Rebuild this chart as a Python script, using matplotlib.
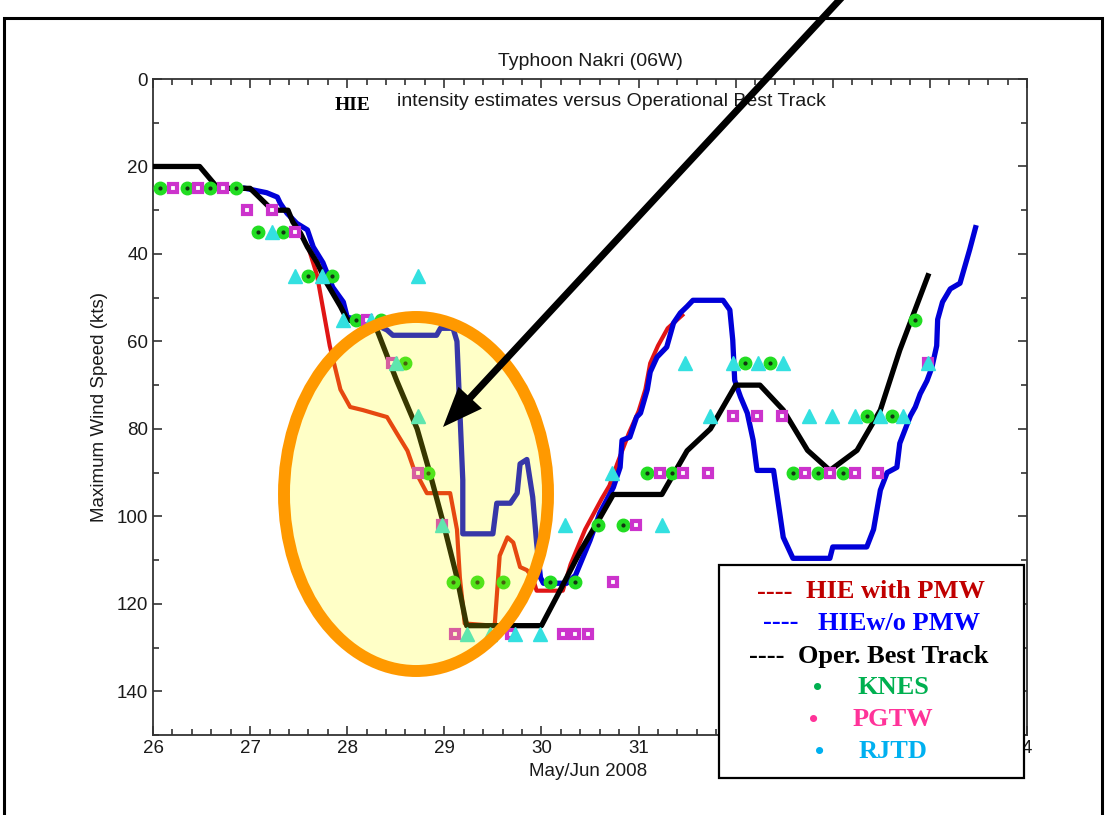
import matplotlib
matplotlib.use("Agg")
import matplotlib.pyplot as plt
from matplotlib.patches import Ellipse, FancyArrow, Rectangle
from matplotlib.ticker import MultipleLocator

# ---------------------------------------------------------------------------
# Data (day of May 2008, June 1 = 32; wind speed in kts)
# ---------------------------------------------------------------------------
bt_day = [26.0, 26.48, 26.67, 27.0, 27.23, 27.39, 27.44, 27.52, 27.59, 27.69,
          27.79, 27.93, 28.0, 28.3, 28.51, 28.72, 28.85, 28.99, 29.13, 29.23,
          30.0, 30.19, 30.4, 30.57, 30.74, 31.24, 31.5, 31.74, 32.0, 32.25,
          32.49, 32.74, 32.97, 33.25, 33.49, 33.69, 33.98]
bt_kt = [20, 20, 25, 25, 30, 30, 32.7, 35.3, 38.4, 42,
         46.7, 52, 55, 57, 69, 80, 90, 101.6, 114, 125,
         125, 117, 108, 101.6, 95, 95, 85, 80, 70, 70,
         75.7, 84.9, 89.5, 84.9, 75.7, 62, 45]

red_day = [27.6, 27.69, 27.82, 27.93, 28.03, 28.16, 28.41, 28.51, 28.62, 28.68,
           28.82, 29.06, 29.13, 29.16, 29.21, 29.5, 29.52, 29.57, 29.65, 29.71,
           29.78, 29.85, 29.91, 29.95, 30.22, 30.3, 30.45, 30.62, 30.7, 30.78,
           30.9, 31.0, 31.07, 31.12, 31.2, 31.3, 31.45]
red_kt = [38.5, 45, 61, 71, 75, 75.7, 77.3, 81, 85, 88.8,
          94.7, 94.7, 103, 114, 124.5, 125, 124.5, 109, 104.8, 106,
          111.6, 112.3, 114, 117, 117, 111, 103, 96, 93, 88,
          81, 76, 71, 65, 61, 57, 54]

blue_day = [26.95, 27.17, 27.28, 27.31, 27.38, 27.48, 27.59, 27.65, 27.75, 27.85,
            27.96, 28.0, 28.23, 28.41, 28.47, 28.92, 28.96, 29.09, 29.13, 29.16,
            29.19, 29.19, 29.5, 29.54, 29.68, 29.75, 29.78, 29.85, 29.91, 29.95,
            29.99, 30.02, 30.26, 30.35, 30.5, 30.6, 30.74, 30.81, 30.83, 30.91,
            30.98, 31.02, 31.09, 31.12, 31.19, 31.29, 31.36, 31.43, 31.5, 31.56,
            31.87, 31.94, 31.97, 31.99, 32.05, 32.12, 32.18, 32.22, 32.39, 32.49,
            32.59, 32.97, 33.0, 33.35, 33.42, 33.49, 33.56, 33.66, 33.69, 33.77,
            33.8, 33.85, 33.9, 33.97, 34.02, 34.07, 34.08, 34.13, 34.21, 34.31,
            34.41, 34.47]
blue_kt = [25, 26, 27, 28.4, 30.7, 33, 34.5, 38.4, 42, 47.6,
           51, 54.5, 55.5, 57.4, 58.6, 58.6, 57, 57, 60, 76,
           91.7, 104, 104, 97, 97, 94.7, 88, 87, 95.6, 106,
           114, 115.3, 115.3, 113.5, 105.5, 99.3, 93.4, 88.8, 82.6, 81.9,
           77.3, 76.4, 71, 67, 63.6, 61.3, 55.8, 53.5, 52, 50.6,
           50.6, 52.8, 59.7, 68.9, 72.7, 76.4, 82.6, 89.5, 89.5, 104.8,
           109.6, 109.6, 107, 107, 103, 94, 90, 88.8, 83.3, 78.7,
           77, 75, 72, 69, 66, 61, 55, 51, 48, 46.7,
           39, 34]

knes_day = [26.07, 26.35, 26.59, 26.85, 27.08, 27.34, 27.6, 27.84, 28.09, 28.35,
            28.6, 28.83, 29.09, 29.34, 29.6, 30.09, 30.35, 30.58, 30.84, 31.09,
            31.34, 32.1, 32.35, 32.59, 32.85, 33.11, 33.35, 33.61, 33.85]
knes_kt = [25, 25, 25, 25, 35, 35, 45, 45, 55, 55,
           65, 90, 115, 115, 115, 115, 115, 102, 102, 90,
           90, 65, 65, 90, 90, 90, 77, 77, 55]

pgtw_day = [26.21, 26.46, 26.72, 26.97, 27.23, 27.46, 28.2, 28.46, 28.73, 28.98,
            29.11, 29.69, 30.22, 30.35, 30.48, 30.74, 30.97, 31.22, 31.46, 31.72,
            31.97, 32.22, 32.48, 32.71, 32.97, 33.23, 33.47, 33.98]
pgtw_kt = [25, 25, 25, 30, 30, 35, 55, 65, 90, 102,
           127, 127, 127, 127, 127, 115, 102, 90, 90, 90,
           77, 77, 77, 90, 90, 90, 90, 65]

rjtd_day = [27.23, 27.46, 27.74, 27.96, 28.24, 28.5, 28.73, 28.73, 28.98, 29.23,
            29.47, 29.73, 29.99, 30.24, 30.73, 31.24, 31.48, 31.74, 31.97, 32.23,
            32.49, 32.75, 32.99, 33.23, 33.49, 33.72, 33.98]
rjtd_kt = [35, 45, 45, 55, 55, 65, 45, 77, 102, 127,
           127, 127, 127, 102, 90, 102, 65, 77, 65, 65,
           65, 77, 77, 77, 77, 77, 65]

x_ticks = [26, 27, 28, 29, 30, 31, 32, 33, 34, 35]
x_ticklabels = ["26", "27", "28", "29", "30", "31", "1", "2", "3", "4"]
y_ticks = [0, 20, 40, 60, 80, 100, 120, 140]

legend_rows = [
    ("----", "HIE with PMW", "#C00000"),
    ("----", "HIEw/o PMW", "#0000FF"),
    ("----", "Oper. Best Track", "#000000"),
    ("\u2022", "KNES", "#00B050"),
    ("\u2022", "PGTW", "#FF3399"),
    ("\u2022", "RJTD", "#00B0F0"),
]

# ---------------------------------------------------------------------------
# Figure
# ---------------------------------------------------------------------------
W, H = 1107, 815
plt.rcParams["font.family"] = ["Liberation Sans", "DejaVu Sans"]
fig = plt.figure(figsize=(W / 100, H / 100), dpi=100)
fig.patch.set_facecolor("white")

ax = fig.add_axes([153 / W, (H - 735) / H, 874 / W, 656 / H])

ax.plot(red_day, red_kt, color="#E01515", lw=3.0, zorder=3)
ax.plot(blue_day, blue_kt, color="#0000D8", lw=3.8, zorder=4)
ax.plot(bt_day, bt_kt, color="black", lw=3.8, zorder=5)

ax.plot(knes_day, knes_kt, ls="none", marker="o", ms=9, mfc="#22DD22",
        mec="#22DD22", zorder=6)
ax.plot(knes_day, knes_kt, ls="none", marker="o", ms=2, color="#113311",
        zorder=7)
ax.plot(pgtw_day, pgtw_kt, ls="none", marker="s", ms=5.5, mfc="white",
        mec="#CC33CC", mew=3.0, zorder=6)
ax.plot(rjtd_day, rjtd_kt, ls="none", marker="^", ms=10.5, color="#33E0E0",
        zorder=6)

ax.set_xlim(26, 35)
ax.set_ylim(150, 0)
ax.set_xticks(x_ticks)
ax.set_xticklabels(x_ticklabels)
ax.set_yticks(y_ticks)
ax.xaxis.set_minor_locator(MultipleLocator(0.2))
ax.yaxis.set_minor_locator(MultipleLocator(10))
ax.tick_params(which="both", direction="in", top=True, right=True,
               colors="#333333", labelcolor="#1a1a1a", labelsize=13.5, width=1.2)
ax.tick_params(which="major", length=6.5)
ax.tick_params(which="minor", length=4)
for s in ax.spines.values():
    s.set_color("#333333")
    s.set_linewidth(1.3)

ax.set_xlabel("May/Jun 2008", fontsize=13.5, color="#1a1a1a", va="center")
ax.xaxis.set_label_coords(0.498, -0.056)
ax.set_ylabel("Maximum Wind Speed (kts)", fontsize=13.5, color="#1a1a1a",
              va="center")
ax.yaxis.set_label_coords(-0.061, 0.5)

ax.text(0.5, 1.026, "Typhoon Nakri (06W)", transform=ax.transAxes,
        ha="center", va="center", fontsize=14, color="#1a1a1a")
ax.text(0.279, 0.965, "intensity estimates versus Operational Best Track",
        transform=ax.transAxes, ha="left", va="center", fontsize=14,
        color="#1a1a1a")
ax.text(0.208, 0.959, "HIE", transform=ax.transAxes, ha="left", va="center",
        fontsize=14, fontweight="bold", family="Liberation Serif")

# ---------------------------------------------------------------------------
# Annotation layer in pixel coordinates
# ---------------------------------------------------------------------------
ov = fig.add_axes([0, 0, 1, 1], zorder=10)
ov.set_xlim(0, W)
ov.set_ylim(H, 0)
ov.axis("off")

ov.add_patch(Ellipse((416, 494), 264, 354, facecolor="#FFFF00", alpha=0.22,
                     edgecolor="none"))
ov.add_patch(Ellipse((416, 494), 264, 354, fill=False, edgecolor="#FF9900",
                     lw=8.6))

ov.add_patch(Rectangle((719, 565), 305, 213, facecolor="white",
                       edgecolor="black", lw=1.6))
row_y = [592, 623, 657, 688, 720, 752]
mark_x = [757, 763, 749, 818, 814, 820]
text_x = [806, 818, 798, 857, 853, 859]
for (mk, label, col), y, mx, tx in zip(legend_rows, row_y, mark_x, text_x):
    if mk == "----":
        ov.text(mx, y, mk, color=col, fontsize=19, fontweight="bold",
                family="Liberation Serif", ha="left", va="center")
    else:
        ov.text(mx, y, mk, color=col, fontsize=19, fontweight="bold",
                family="Liberation Serif", ha="center", va="center")
    ov.text(tx, y, label, color=col, fontsize=19, fontweight="bold",
            family="Liberation Serif", ha="left", va="center")

ov.add_patch(FancyArrow(845, -6, 443 - 845, 427 + 6, width=7, head_width=32,
                        head_length=40, length_includes_head=True,
                        color="black", lw=0))

# outer frame
ov.plot([4, 4, 1102, 1102], [815, 18, 18, 815], color="black", lw=2.2,
        solid_joinstyle="miter")

fig.savefig("out.png", dpi=100)
